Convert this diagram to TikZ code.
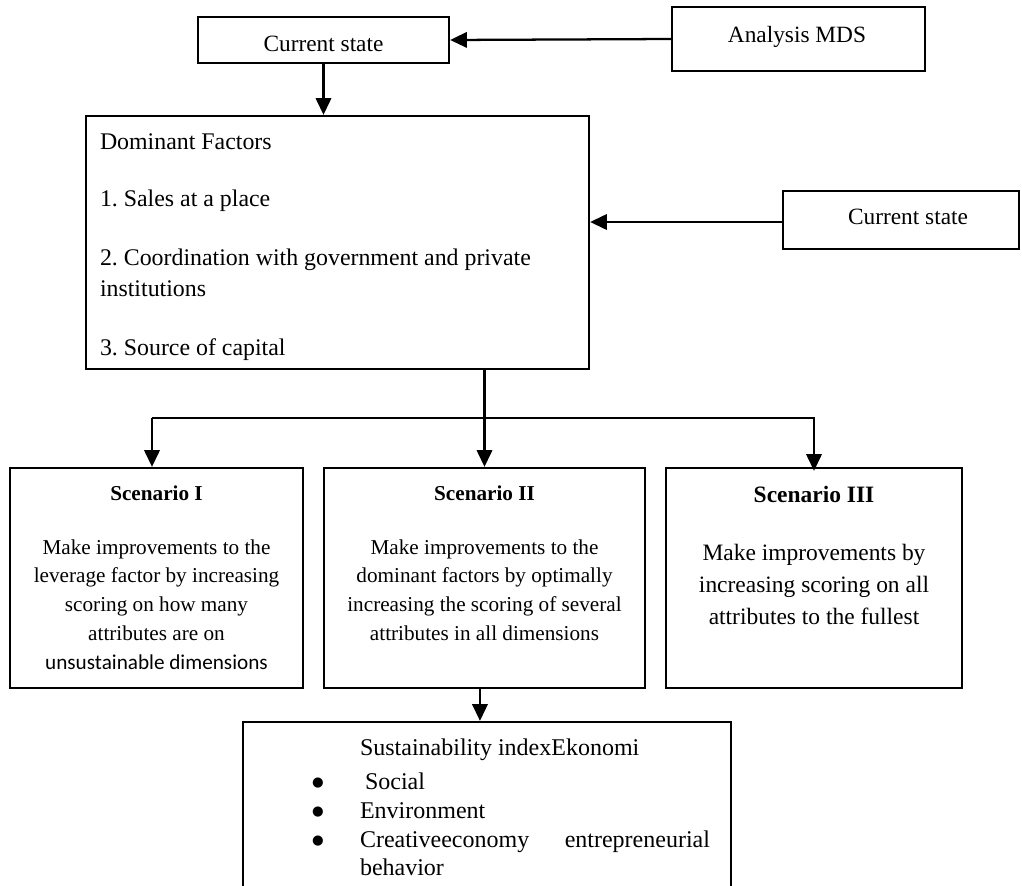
\documentclass[tikz,border=0pt]{standalone}
\usepackage{fontspec}
\setmainfont{Liberation Serif}
\newfontfamily\calibfont{Carlito}
\newfontfamily\dejavu{DejaVu Sans}
\usetikzlibrary{arrows.meta,fit}
\newcommand\fsA{\fontsize{17.9pt}{21pt}\selectfont}
\newcommand\fsC{\fontsize{17.5pt}{21pt}\selectfont}
\newcommand\fsS{\fontsize{15.9pt}{19pt}\selectfont}
\newcommand\fsT{\fontsize{17.6pt}{21pt}\selectfont}
\newcommand\fsB{\fontsize{18pt}{21pt}\selectfont}
\newcommand\fsBul{\fontsize{10pt}{12pt}\selectfont}
\tikzset{
  box/.style={draw, line width=1.7pt, inner sep=0pt},
  ln/.style={line width=1.7pt},
  arr/.style={line width=1.7pt, -{Triangle[length=12.5pt,width=11.5pt]}},
  txt/.style={inner sep=0pt, outer sep=0pt},
  bul/.style={txt, font=\fsBul\dejavu, anchor=base},
}
\begin{document}
\frenchspacing
\begin{tikzpicture}[x=0.75pt,y=-0.75pt]
\useasboundingbox (0,0) rectangle (1022,886);
% boxes
\node[box, fit={(198,17)(449,63)}] (cs1) {};
\node[box, fit={(672,7)(925,71)}] (an) {};
\node[box, fit={(86,116)(589,369)}] (dom) {};
\node[box, fit={(783,191)(1019,249)}] (cs2) {};
\node[box, fit={(10,468)(303,688)}] (s1) {};
\node[box, fit={(324,468)(645,688)}] (s2) {};
\node[box, fit={(666,468)(962,688)}] (s3) {};
\node[box, fit={(243,722)(731,895)}] (bt) {};
% texts
\node[txt, font=\fsC, anchor=base] (cs1t) at (323.5,51) {Current state};
\node[txt, font=\fsC, anchor=base] (ant) at (797,42) {Analysis MDS};
\node[txt, font=\fsC, anchor=base] (cs2t) at (908,224) {Current state};
\node[txt, font=\fsA, anchor=base west] (d0) at (100,149) {Dominant Factors};
\node[txt, font=\fsA, anchor=base west] (d1) at (100,206) {1. Sales at a place};
\node[txt, font=\fsA, anchor=base west] (d2) at (100,265) {2. Coordination with government and private};
\node[txt, font=\fsA, anchor=base west] (d2b) at (100,296) {institutions};
\node[txt, font=\fsA, anchor=base west] (d3) at (100,355) {3. Source of capital};
% scenario I
\node[txt, font=\fsS\bfseries, anchor=base] (s1h) at (156.5,500) {Scenario I};
\foreach \t [count=\i] in {Make improvements to the, leverage factor by increasing, scoring on how many, attributes are on}
  \node[txt, font=\fsS, anchor=base] (s1l\i) at (156.5,{554+28.7*(\i-1)}) {\t};
\node[txt, font=\fsS\calibfont, anchor=base] (s1l5) at (156.5,669) {unsustainable dimensions};
% scenario II
\node[txt, font=\fsS\bfseries, anchor=base] (s2h) at (484.5,500) {Scenario II};
\foreach \t [count=\i] in {Make improvements to the, dominant factors by optimally, increasing the scoring of several, attributes in all dimensions}
  \node[txt, font=\fsS, anchor=base] (s2l\i) at (484.5,{554+28.7*(\i-1)}) {\t};
% scenario III
\node[txt, font=\fsT\bfseries, anchor=base] (s3h) at (814,502) {Scenario III};
\foreach \t [count=\i] in {Make improvements by, increasing scoring on all, attributes to the fullest}
  \node[txt, font=\fsT, anchor=base] (s3l\i) at (814,{560+32*(\i-1)}) {\t};
% bottom box
\node[txt, font=\fsB, anchor=base west] (b0) at (360,755) {Sustainability indexEkonomi};
\node[bul] (bu1) at (318,786) {●};
\node[txt, font=\fsB, anchor=base west] (b1) at (365,789) {Social};
\node[bul] (bu2) at (318,815) {●};
\node[txt, font=\fsB, anchor=base west] (b2) at (360,818) {Environment};
\node[bul] (bu3) at (318,844) {●};
\node[txt, font=\fsB, anchor=base west] (b3a) at (360,847) {Creativeeconomy};
\node[txt, font=\fsB, anchor=base east] (b3b) at (710,847) {entrepreneurial};
\node[txt, font=\fsB, anchor=base west] (b4) at (360,875) {behavior};
% connectors
\draw[arr] (an.west) -- (cs1.east);
\draw[arr] (cs1.south) -- (cs1.south |- dom.north);
\draw[arr] ([yshift=-1.5pt]cs2.west) -- ([yshift=-1.5pt]cs2.west -| dom.east);
\coordinate (jl) at (152,418);
\coordinate (jr) at (815,418);
\draw[arr] (s2.north |- dom.south) -- (s2.north);
\draw[ln] (jl) -- (jr);
\draw[arr] (jl) -- (jl |- s1.north);
\draw[arr] (s3.north |- jr) -- ([yshift=-3pt]s3.north);
\draw[arr] ([xshift=-3.4pt]s2.south) -- ([xshift=-3.4pt]s2.south |- bt.north);
\end{tikzpicture}
\end{document}
